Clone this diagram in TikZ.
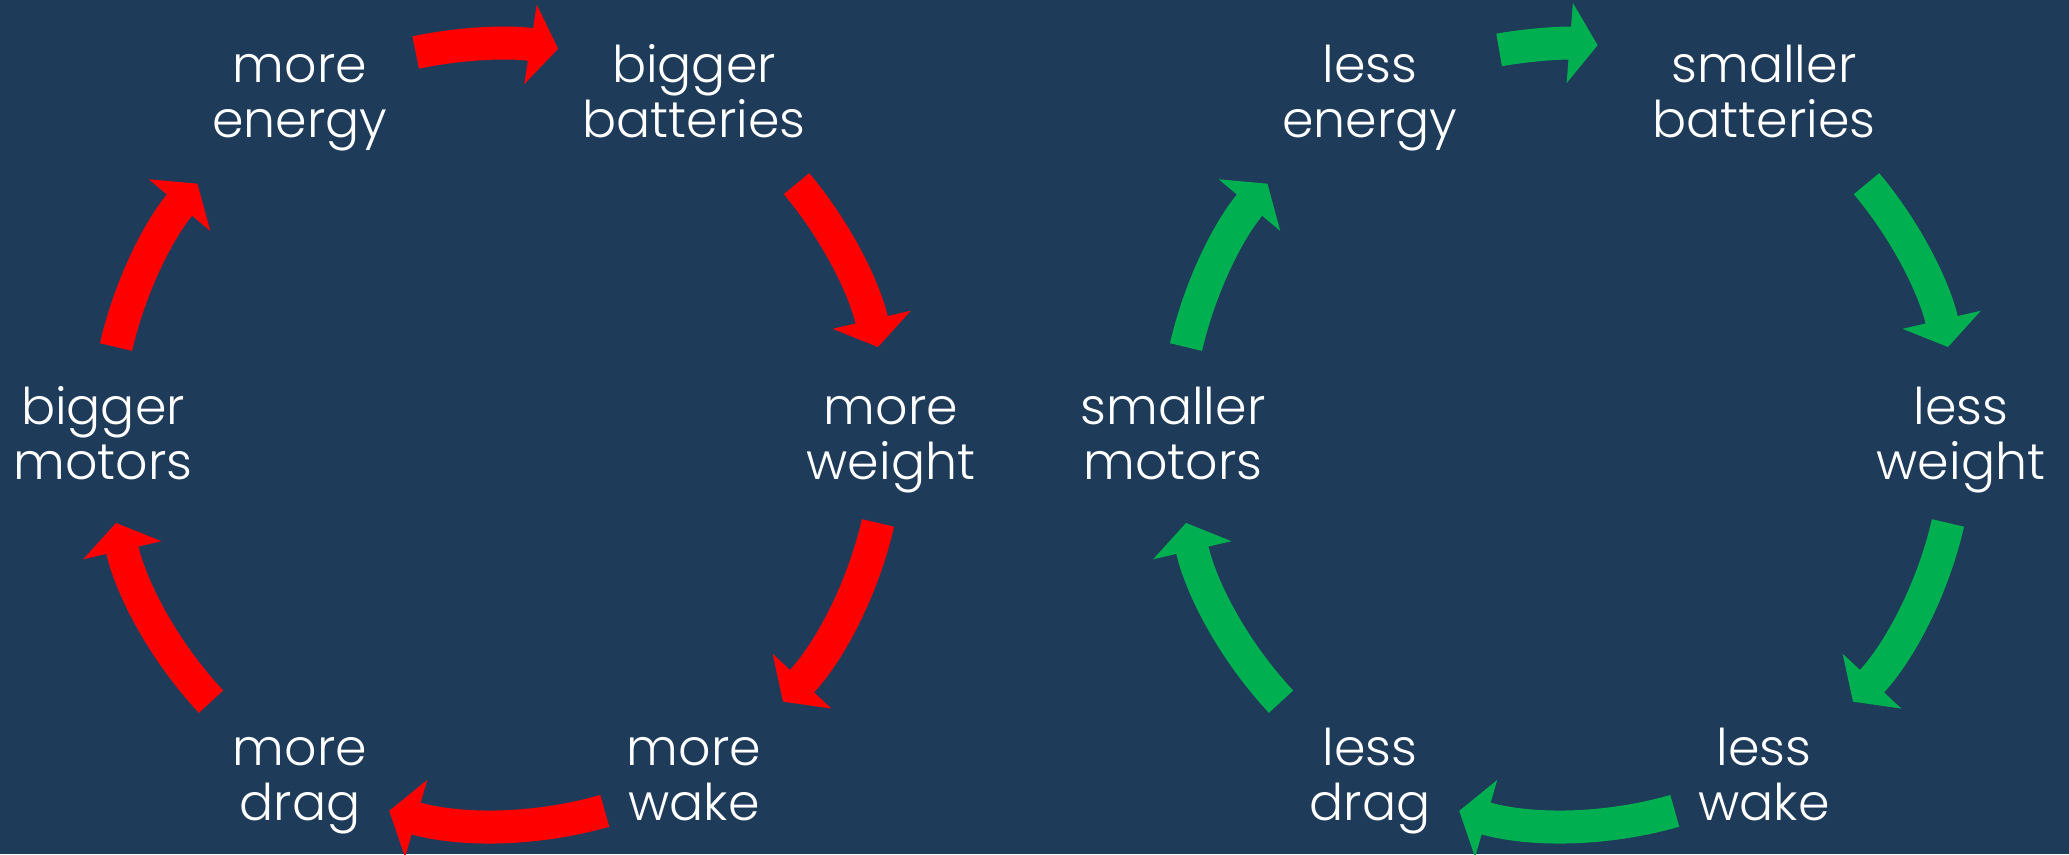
\documentclass[tikz,border=0pt]{standalone}
\usepackage{fontspec}
\setmainfont{Poppins Light}
\usepackage{tikz}
\usetikzlibrary{arrows.meta}
\definecolor{slidebg}{RGB}{30,59,90}
\definecolor{viciousred}{RGB}{255,0,0}
\definecolor{virtuousgreen}{RGB}{0,176,80}

\begin{document}
\begin{tikzpicture}[
    lbl/.style={text=white, align=center, anchor=base, yshift=-0.44cm, inner sep=0pt,
      font=\fontsize{14.4}{15.65}\selectfont},
    cyc/.style={line width=0.33cm, -{Triangle[width=0.79cm, length=0.28cm]}},
    redarrow/.style={cyc, viciousred},
    greenarrow/.style={cyc, virtuousgreen}
  ]
    \fill[slidebg] (-4.97,-4.19) rectangle (15.72,4.35);
    \useasboundingbox (-4.97,-4.19) rectangle (15.72,4.35);
    \coordinate (lc) at (0,0);
    \coordinate (rc) at (10.70,0);

    % vicious cycle
    \node[lbl] (menergy) at ([shift={(120:3.94)}]lc) {more\\energy};
    \node[lbl] (bbatt) at ([shift={(60:3.94)}]lc) {bigger\\batteries};
    \node[lbl] (mweight) at ([shift={(0:3.94)}]lc) {more\\weight};
    \node[lbl] (mwake) at ([shift={(-60:3.94)}]lc) {more\\wake};
    \node[lbl] (mdrag) at ([shift={(-120:3.94)}]lc) {more\\drag};
    \node[lbl] (bmotor) at ([shift={(180:3.94)}]lc) {bigger\\motors};
    \draw[redarrow] ([shift={(102:3.91)}]lc) arc[start angle=102, end angle=81, radius=3.91];
    \draw[redarrow] ([shift={(40:3.91)}]lc) arc[start angle=40, end angle=13, radius=3.91];
    \draw[redarrow] ([shift={(-13:3.91)}]lc) arc[start angle=-13, end angle=-43, radius=3.91];
    \draw[redarrow] ([shift={(-74:3.91)}]lc) arc[start angle=-74, end angle=-106, radius=3.91];
    \draw[redarrow] ([shift={(223:3.91)}]lc) arc[start angle=223, end angle=193, radius=3.91];
    \draw[redarrow] ([shift={(167:3.91)}]lc) arc[start angle=167, end angle=140, radius=3.91];

    % virtuous cycle
    \node[lbl] (lenergy) at ([shift={(120:3.94)}]rc) {less\\energy};
    \node[lbl] (sbatt) at ([shift={(60:3.94)}]rc) {smaller\\batteries};
    \node[lbl] (lweight) at ([shift={(0:3.94)}]rc) {less\\weight};
    \node[lbl] (lwake) at ([shift={(-60:3.94)}]rc) {less\\wake};
    \node[lbl] (ldrag) at ([shift={(-120:3.94)}]rc) {less\\drag};
    \node[lbl] (smotor) at ([shift={(180:3.94)}]rc) {smaller\\motors};
    \draw[greenarrow] ([shift={(100:3.91)}]rc) arc[start angle=100, end angle=85.5, radius=3.91];
    \draw[greenarrow] ([shift={(40:3.91)}]rc) arc[start angle=40, end angle=13, radius=3.91];
    \draw[greenarrow] ([shift={(-13:3.91)}]rc) arc[start angle=-13, end angle=-43, radius=3.91];
    \draw[greenarrow] ([shift={(-74:3.91)}]rc) arc[start angle=-74, end angle=-106, radius=3.91];
    \draw[greenarrow] ([shift={(223:3.91)}]rc) arc[start angle=223, end angle=193, radius=3.91];
    \draw[greenarrow] ([shift={(167:3.91)}]rc) arc[start angle=167, end angle=140, radius=3.91];
\end{tikzpicture}
\end{document}
